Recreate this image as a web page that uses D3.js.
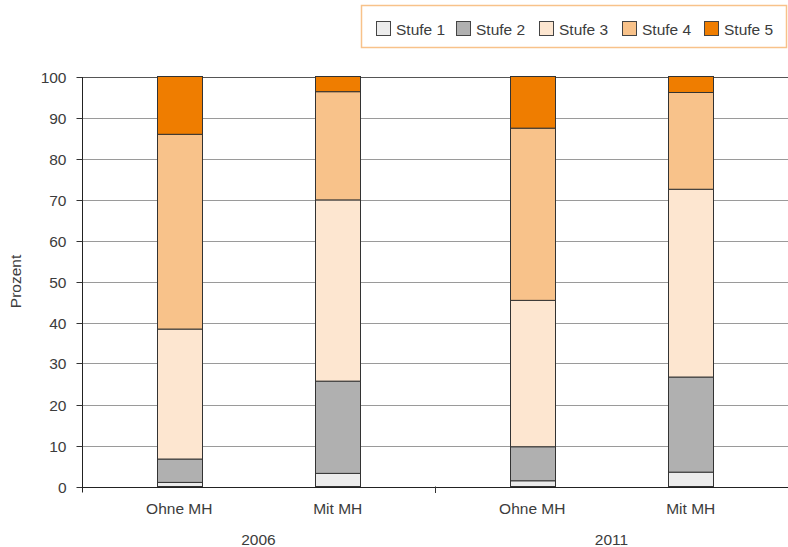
<!DOCTYPE html>
<html><head><meta charset="utf-8">
<script src="https://cdn.jsdelivr.net/npm/d3@7"></script>
<style>
body{margin:0;background:#fff;}
text{font-family:"Liberation Sans",Arial,sans-serif;fill:#3c3c3c;}
</style></head>
<body><svg id="c" width="788" height="547"></svg>
<script>
const years = ["2006", "2011"];
const groups = ["Ohne MH", "Mit MH"];
const stufen = ["Stufe 1", "Stufe 2", "Stufe 3", "Stufe 4", "Stufe 5"];
const colors = ["#ececec", "#b0b0b0", "#fde6d0", "#f8c28a", "#ef7d00"];
// values per bar: Stufe1..Stufe5 (percent)
const bar2006Ohne = [1.0, 5.7, 31.7, 47.5, 14.1];
const bar2006Mit = [3.2, 22.5, 44.2, 26.4, 3.7];
const bar2011Ohne = [1.4, 8.3, 35.7, 42.0, 12.6];
const bar2011Mit = [3.5, 23.2, 45.8, 23.6, 3.9];
const yTicks = [0, 10, 20, 30, 40, 50, 60, 70, 80, 90, 100];

const bars = [
  {year: "2006", group: "Ohne MH", vals: bar2006Ohne},
  {year: "2006", group: "Mit MH", vals: bar2006Mit},
  {year: "2011", group: "Ohne MH", vals: bar2011Ohne},
  {year: "2011", group: "Mit MH", vals: bar2011Mit}
];

const svg = d3.select("#c");
const mLeft = 82, mRight = 788, mTop = 76.5, mBottom = 486.5;
const y = d3.scaleLinear().domain([0, 100]).range([mBottom, mTop]);
const x0 = d3.scaleBand().domain(years).range([mLeft, mRight]).padding(0);
const x1 = d3.scaleBand().domain(groups).range([0, x0.bandwidth()])
  .paddingInner(0.716).paddingOuter(0.4716);

// gridlines
svg.append("g").selectAll("line").data(yTicks.filter(d => d > 0)).join("line")
  .attr("x1", mLeft).attr("x2", mRight)
  .attr("y1", d => Math.round(y(d)) + 0.5).attr("y2", d => Math.round(y(d)) + 0.5)
  .attr("stroke", d => d === 100 ? "#555" : "#9a9a9a").attr("stroke-width", 1);

// y axis
const yAxis = d3.axisLeft(y).tickValues(yTicks).tickSize(6).tickPadding(10);
const gy = svg.append("g").attr("transform", `translate(${mLeft + 0.5},0)`).call(yAxis);
gy.selectAll(".tick").attr("transform", d => `translate(0,${Math.round(y(d)) + 0.5})`);
gy.select(".domain").attr("stroke", "#222").attr("d", `M0,${Math.round(mTop)}V${mBottom + 6}`);
gy.selectAll(".tick line").attr("stroke", "#333");
gy.selectAll(".tick text").style("font-size", "15.5px").attr("fill", "#3c3c3c").attr("dy", "0.35em");

// bars
const stack = svg.append("g");
bars.forEach(b => {
  const bx = x0(b.year) + x1(b.group);
  let cum = 0;
  b.vals.forEach((v, i) => {
    const y0 = cum, y1 = cum + v;
    cum = y1;
    stack.append("rect")
      .attr("x", Math.round(bx) + 0.5)
      .attr("y", y(y1))
      .attr("width", Math.round(x1.bandwidth()))
      .attr("height", y(y0) - y(y1))
      .attr("fill", colors[i])
      .attr("stroke", "#333").attr("stroke-width", 1);
  });
});

// x axis baseline and ticks
const gx = svg.append("g");
gx.append("line").attr("x1", mLeft).attr("x2", mRight)
  .attr("y1", Math.round(mBottom) + 0.5).attr("y2", Math.round(mBottom) + 0.5)
  .attr("stroke", "#222");
gx.selectAll("line.sep").data(years.slice(1)).join("line").attr("class", "sep")
  .attr("x1", d => Math.round(x0(d)) + 0.5).attr("x2", d => Math.round(x0(d)) + 0.5)
  .attr("y1", mBottom).attr("y2", mBottom + 6.5).attr("stroke", "#333");

// category labels
bars.forEach(b => {
  svg.append("text")
    .attr("x", x0(b.year) + x1(b.group) + x1.bandwidth() / 2)
    .attr("y", 514).attr("text-anchor", "middle").style("font-size", "15.5px")
    .text(b.group);
});
years.forEach(yr => {
  svg.append("text").attr("x", x0(yr) + x0.bandwidth() / 2).attr("y", 545)
    .attr("text-anchor", "middle").style("font-size", "15.5px").text(yr);
});

// y label
svg.append("text").attr("transform", `translate(21,${(mTop + mBottom) / 2}) rotate(-90)`)
  .attr("text-anchor", "middle").style("font-size", "15.5px").text("Prozent");

// legend
const lg = svg.append("g");
lg.append("rect").attr("x", 361.5).attr("y", 5.5).attr("width", 425).attr("height", 42)
  .attr("fill", "#fff").attr("stroke", "#f8c28a").attr("stroke-width", 1.5);
const legX = [376, 456, 539, 622, 704];
stufen.forEach((s, i) => {
  lg.append("rect").attr("x", legX[i] + 0.5).attr("y", 21.5).attr("width", 14).attr("height", 14)
    .attr("fill", colors[i]).attr("stroke", "#444");
  lg.append("text").attr("x", legX[i] + 20).attr("y", 35).style("font-size", "15.5px").text(s);
});
</script></body></html>
